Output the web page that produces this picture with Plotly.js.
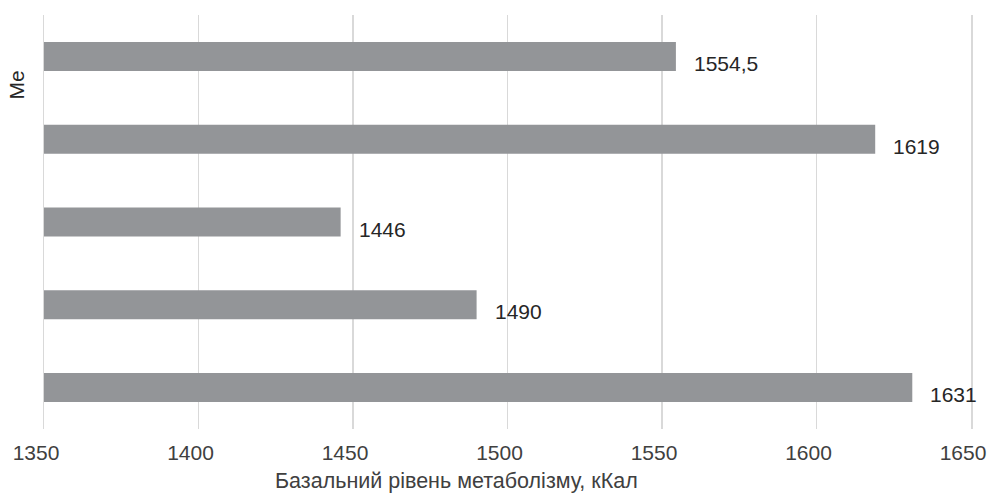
<!DOCTYPE html>
<html>
<head>
<meta charset="utf-8">
<script src="https://cdn.plot.ly/plotly-3.0.1.min.js"></script>
<style>html,body{margin:0;padding:0;background:#fff;}#chart{width:987px;height:495px;}</style>
</head>
<body>
<div id="chart"></div>
<script>
const categories = ["g1", "g2", "g3", "g4", "g5"];
const values = [1554.5, 1619, 1446, 1490, 1631];
const labels = ["1554,5", "1619", "1446", "1490", "1631"];
const xTicks = [1350, 1400, 1450, 1500, 1550, 1600, 1650];
const yLabel = "Me";
const xTitle = "Базальний рівень метаболізму, кКал";

const FONT = "Liberation Sans, Arial, sans-serif";

const trace = {
  type: "bar",
  orientation: "h",
  y: categories,
  x: values,
  marker: {color: "#939598"},
  width: 0.35,
  hoverinfo: "x"
};

const annotations = values.map((v, i) => ({
  x: v, y: categories[i], xref: "x", yref: "y",
  text: labels[i], showarrow: false,
  xanchor: "left", yanchor: "middle",
  xshift: 16, yshift: -7,
  font: {family: FONT, size: 21, color: "#262626"}
}));
annotations.push({
  text: yLabel, xref: "paper", yref: "paper", x: -0.03, y: 0.83,
  showarrow: false, textangle: -90, xanchor: "center", yanchor: "middle",
  font: {family: FONT, size: 21, color: "#262626"}
});
annotations.push({
  text: xTitle, xref: "paper", yref: "paper", x: 0.4445, y: 0,
  showarrow: false, xanchor: "center", yanchor: "middle", yshift: -52,
  font: {family: FONT, size: 21.5, color: "#404040"}
});

const layout = {
  width: 987, height: 495,
  margin: {l: 44, r: 16, t: 14.5, b: 65.5},
  paper_bgcolor: "#ffffff", plot_bgcolor: "#ffffff",
  showlegend: false,
  xaxis: {
    range: [1350, 1650], tickvals: xTicks, ticktext: xTicks.map(String),
    showgrid: true, gridcolor: "#d9d9d9", gridwidth: 1.5,
    zeroline: false, showline: false, ticks: "",
    tickfont: {family: FONT, size: 21, color: "#404040"},
    ticklabelstandoff: 9, ticklabelshift: -8, ticklabeloverflow: "allow"
  },
  yaxis: {
    type: "category", categoryorder: "array", categoryarray: categories,
    autorange: "reversed", showticklabels: false, showgrid: false,
    zeroline: false, showline: true, mirror: true, linecolor: "#d9d9d9", linewidth: 1.5, ticks: ""
  },
  annotations: annotations
};

Plotly.newPlot("chart", [trace], layout, {displayModeBar: false, staticPlot: true});
</script>
</body>
</html>
